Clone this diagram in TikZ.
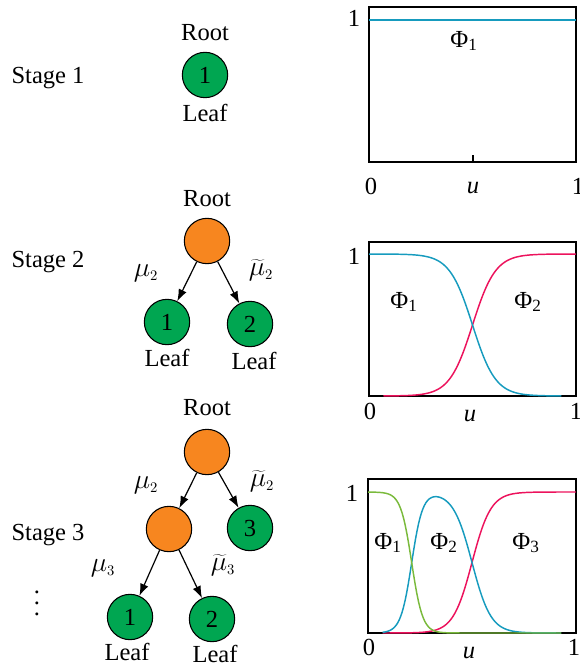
\documentclass[tikz,border=0pt]{standalone}
\usepackage{fontspec}
\setmainfont{Liberation Serif}
\usetikzlibrary{arrows.meta}

\definecolor{leafgreen}{RGB}{0,166,81}
\definecolor{splitorange}{RGB}{247,134,31}
\definecolor{phiblue}{RGB}{22,155,190}
\definecolor{phired}{RGB}{236,18,92}
\definecolor{phigreen}{RGB}{122,186,60}

\tikzset{every picture/.style={line width=0.75pt}}
\tikzset{
  leaf/.style={circle, draw, line width=0.8pt, fill=leafgreen, minimum size=34pt, inner sep=0pt},
  split/.style={circle, draw, line width=0.8pt, fill=splitorange, minimum size=34pt, inner sep=0pt},
  branch/.style={-{Latex[length=9pt,width=6.5pt]}, line width=0.9pt},
  weight/.style={font=\fontsize{22}{26}\selectfont},
  frame/.style={line width=1.1pt},
  curve/.style={line width=1.1pt, samples=120},
}
% logistic step, clipped so exp stays small
\newcommand{\sigm}[3]{(1/(1+exp(max(-9,min(9,-#2*(#1-#3))))))}

\begin{document}
\begin{tikzpicture}[x=0.75pt,y=0.75pt,yscale=-1,xscale=1,font=\rmfamily\fontsize{18.4}{22}\selectfont]
\useasboundingbox (0,0) rectangle (579,666);

%Stage 1
\node (stageA) at (48,78) {Stage 1};
\node (rootA) at (205,33) {Root};
\node [leaf] (leafA1) at (205,75) {1};
\node (leafAtext) at (205,113) {Leaf};

%Stage 2
\node (stageB) at (48,262) {Stage 2};
\node (rootB) at (207,199) {Root};
\node [split] (splitB) at (207,241) {};
\node [leaf] (leafB1) at (167,322) {1};
\node [leaf] (leafB2) at (250,324) {2};
\node (leafB1text) at (167,358) {Leaf};
\node (leafB2text) at (254,361) {Leaf};
\draw [branch] (splitB) -- (leafB1);
\draw [branch] (splitB) -- (leafB2);
\node [weight] (muB) at (146,273) {$\mu_{\scriptscriptstyle 2}$};
\node [weight] (mutB) at (261,270) {$\widetilde{\mu}_{\scriptscriptstyle 2}$};

%Stage 3
\node (stageC) at (48,535) {Stage 3};
\node [align=center, inner sep=0pt, font=\fontsize{18.4}{8.3}\selectfont] (dotsC) at (37,603) {.\\.\\.};
\node (rootC) at (207,408) {Root};
\node [split] (splitC1) at (207,452) {};
\node [split] (splitC2) at (169,529) {};
\node [leaf] (leafC3) at (250,528) {3};
\node [leaf] (leafC1) at (130,617) {1};
\node [leaf] (leafC2) at (212,619) {2};
\node (leafC1text) at (127,652) {Leaf};
\node (leafC2text) at (215,654) {Leaf};
\draw [branch] (splitC1) -- (splitC2);
\draw [branch] (splitC1) -- (leafC3);
\draw [branch] (splitC2) -- (leafC1);
\draw [branch] (splitC2) -- (leafC2);
\node [weight] (muC2) at (146,485) {$\mu_{\scriptscriptstyle 2}$};
\node [weight] (mutC2) at (262,481) {$\widetilde{\mu}_{\scriptscriptstyle 2}$};
\node [weight] (muC3) at (103,568) {$\mu_{\scriptscriptstyle 3}$};
\node [weight] (mutC3) at (223,565) {$\widetilde{\mu}_{\scriptscriptstyle 3}$};

%Plot 1
\draw [frame] (369,7) rectangle (576,162);
\draw [frame] (473,162) -- (473,155);
\draw [curve, phiblue] (369,20) -- (576,20);
\node (phiA1) at (464,41) {Φ\textsubscript{1}};
\node (oneA) at (354,18) {1};
\node (zeroA) at (371,186) {0};
\node (uA) at (473,188) {\textit{u}};
\node (endA) at (578,186) {1};

%Plot 2
\draw [frame] (369,242) rectangle (576,396);
\draw [curve, phired, domain=0.07:1] plot ({369+207*\x},{396-142*\sigm{\x}{18}{0.5}});
\draw [curve, phiblue, domain=0:0.93] plot ({369+207*\x},{396-142*(1-\sigm{\x}{18}{0.5})});
\node (phiB1) at (404,302) {Φ\textsubscript{1}};
\node (phiB2) at (528,302) {Φ\textsubscript{2}};
\node (oneB) at (354,256) {1};
\node (zeroB) at (370,411) {0};
\node (uB) at (470,416) {\textit{u}};
\node (endB) at (576,411) {1};

%Plot 3
\draw [frame] (368,479) rectangle (576,633);
\draw [curve, phired, domain=0.07:1] plot ({368+208*\x},{633-141*\sigm{\x}{22}{0.5}});
\draw [curve, phiblue, domain=0.07:0.93] plot ({368+208*\x},{633-141*(1-\sigm{\x}{22}{0.5})*\sigm{\x}{38}{0.21}});
\draw [curve, phigreen, domain=0:0.93] plot ({368+208*\x},{633-141*(1-\sigm{\x}{22}{0.5})*(1-\sigm{\x}{38}{0.21})});
\node (phiC1) at (388,543) {Φ\textsubscript{1}};
\node (phiC2) at (444,543) {Φ\textsubscript{2}};
\node (phiC3) at (526,543) {Φ\textsubscript{3}};
\node (oneC) at (352,493) {1};
\node (zeroC) at (369,647) {0};
\node (uC) at (469,653) {\textit{u}};
\node (endC) at (574,647) {1};

\end{tikzpicture}
\end{document}
